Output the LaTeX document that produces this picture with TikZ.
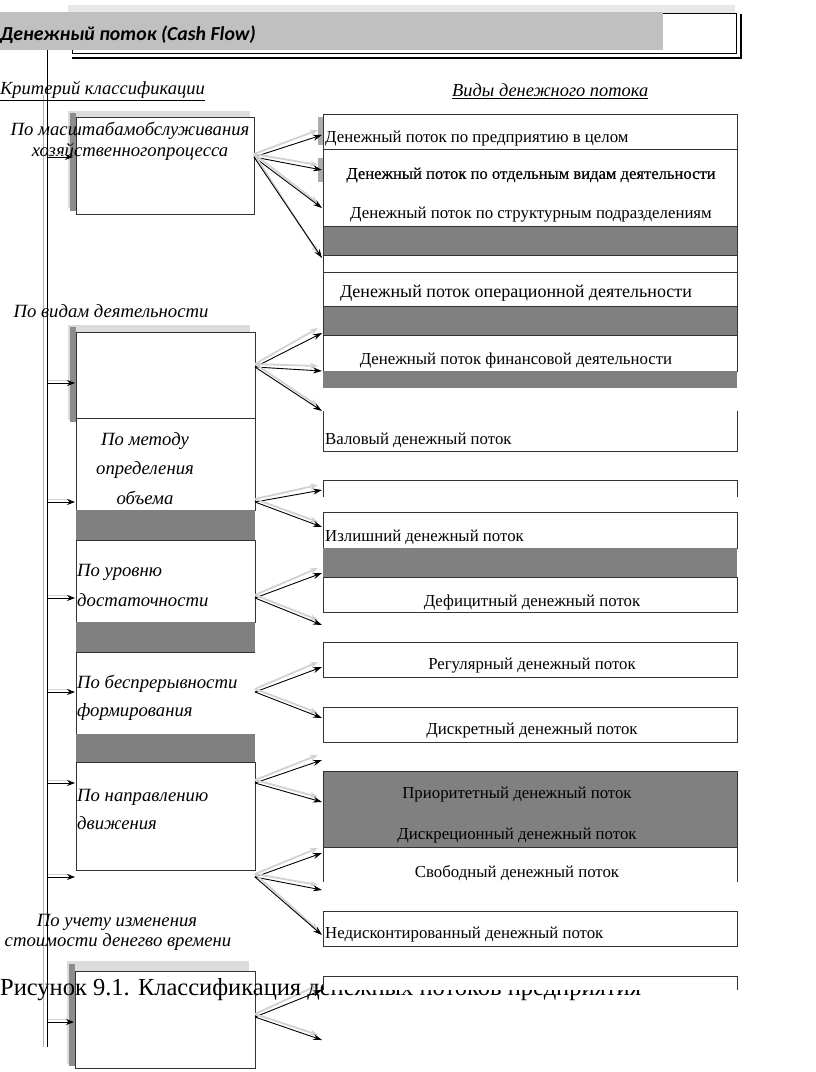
\documentclass[tikz,border=0pt]{standalone}
\usepackage{fontspec}
\setmainfont{Liberation Serif}
\newfontfamily\hdrfont{Carlito}
\usetikzlibrary{arrows.meta}
\definecolor{stripgray}{HTML}{808080}
\definecolor{hdrgray}{HTML}{C0C0C0}
\definecolor{shdark}{HTML}{8C8C8C}
\definecolor{shlight}{HTML}{DCDCDC}
\begin{document}
\begin{tikzpicture}[x=1pt,y=-1pt,
  boxline/.style={draw=black!80, line width=0.8pt},
  strip/.style={fill=stripgray},
  rtext/.style={inner sep=0pt, font=\fontsize{16.8}{19}\selectfont},
  ltext/.style={inner sep=0pt, font=\fontsize{18.7}{21}\selectfont\itshape},
  arr/.style={-{Stealth[length=9pt,width=6pt]}, line width=0.9pt, black},
  arrsh/.style={-{Stealth[length=8pt,width=6pt]}, line width=1.8pt, gray!35},
  feed/.style={-{Stealth[length=8pt,width=6pt]}, line width=0.8pt, black},
  feedsh/.style={line width=1.8pt, gray!35}]
\useasboundingbox (0,0) rectangle (816,1072);
\fill[white] (0,0) rectangle (816,1072);

% ---------- header ----------
\fill[shlight!70] (68,5) rectangle (735,13);
\draw[line width=0.8pt] (72,13) rectangle (736,53);
\draw[line width=1.6pt] (72,58) -- (741,58) -- (741,14);
\fill[hdrgray] (0,12) rectangle (663,50);
\node[anchor=west, inner sep=0pt, font=\hdrfont\bfseries\itshape\fontsize{19.8}{23}\selectfont] (title) at (0,35) {Денежный поток (Cash Flow)};

% ---------- left spine ----------
\coordinate (spT) at (47.5,50);
\coordinate (spB) at (47.5,1047);
\draw[gray!60, line width=0.8pt] (43,95) -- (43,1047);
\draw[black, line width=0.9pt] (spT) -- (spB);

% ---------- column titles ----------
\node[anchor=west, inner sep=0pt, font=\fontsize{18.5}{21}\selectfont\itshape] (crit) at (0,91) {\underline{Критерий классификации}};
\node[anchor=west, inner sep=0pt, font=\fontsize{18.4}{21}\selectfont\itshape] (vidy) at (452,91) {\underline{Виды денежного потока}};

% ---------- left boxes ----------
% box 1
\fill[shlight] (68,111) rectangle (250,208);
\fill[shdark] (70,113) rectangle (76,211);
\filldraw[fill=white, boxline] (76,117) rectangle (254,214);
\node[ltext] (c1a) at (130,131) {По масштабамобслуживания};
\node[ltext] (c1b) at (130,152) {хозяйственногопроцесса};
\node[ltext] (c2) at (111,311) {По видам деятельности};
% box 2
\fill[shlight] (68,325) rectangle (250,420);
\fill[shdark] (70,327) rectangle (76,422);
\filldraw[fill=white, boxline] (76,332) rectangle (255,418);
% box 3
\filldraw[fill=white, boxline] (76,418) rectangle (255,510);
\node[ltext] (c3a) at (145,441) {По методу};
\node[ltext] (c3b) at (145,470) {определения};
\node[ltext] (c3c) at (145,498) {объема};
\fill[strip] (76,510) rectangle (255,540);
% box 4
\filldraw[fill=white, boxline] (76,540) rectangle (255,622);
\node[ltext, anchor=west] (c4a) at (77,572) {По уровню};
\node[ltext, anchor=west] (c4b) at (77,600) {достаточности};
\fill[strip] (76,622) rectangle (255,652);
% box 5
\fill[white] (76,652) rectangle (255,734);
\draw[boxline] (76,734) -- (76,652) -- (255,652);
\node[ltext, anchor=west] (c5a) at (77,684) {По беспрерывности};
\node[ltext, anchor=west] (c5b) at (77,712) {формирования};
\fill[strip] (76,734) rectangle (255,762);
% box 6
\filldraw[fill=white, boxline] (76,762) rectangle (255,870);
\node[ltext, anchor=west] (c6a) at (77,797) {По направлению};
\node[ltext, anchor=west] (c6b) at (77,823) {движения};
\node[ltext] (c7a) at (117,922) {По учету изменения};
\node[ltext] (c7b) at (118,942) {стоимости денегво времени};
% box 7
\fill[shlight] (67,961) rectangle (249,1064);
\fill[shdark] (69,964) rectangle (75,1066);
\filldraw[fill=white, boxline] (75,971) rectangle (255,1068);

% ---------- right boxes ----------
\fill[gray!65] (318,117) rectangle (323,145);
\fill[gray!65] (318,158) rectangle (323,182);
\draw[boxline] (323,114) rectangle (737,149);
\node[rtext, anchor=west] (rA) at (325,139) {Денежный поток по предприятию в целом};
\draw[boxline] (323,149) rectangle (737,226);
\node[rtext, font=\fontsize{16.6}{19}\selectfont\addfontfeature{FakeBold=0.5}] (rB1) at (531,175) {Денежный поток по отдельным видам деятельности};
\node[rtext] (rB2) at (531,215) {Денежный поток по структурным подразделениям};
\filldraw[strip, boxline] (323,226) rectangle (737,255);
\draw[boxline] (323,255) rectangle (737,272);
\draw[boxline] (323,272) rectangle (737,306);
\node[rtext, font=\fontsize{18}{21}\selectfont] (rD) at (516,293) {Денежный поток операционной деятельности};
\filldraw[strip, boxline] (323,306) rectangle (737,335);
\draw[boxline] (323,335) rectangle (737,371);
\node[rtext] (rE) at (516,360) {Денежный поток финансовой деятельности};
\fill[strip] (323,371) rectangle (737,388);
\draw[boxline] (323,411) -- (323,451) -- (737,451) -- (737,411);
\node[rtext, anchor=west] (rF) at (325,440) {Валовый денежный поток};
\draw[boxline] (323,497) -- (323,480) -- (737,480) -- (737,497);
\draw[boxline] (323,512) rectangle (737,548);
\node[rtext, anchor=west] (rH) at (325,537) {Излишний денежный поток};
\fill[strip] (323,548) rectangle (737,577);
\draw[boxline] (323,577) rectangle (737,612);
\node[rtext] (rI) at (532,602) {Дефицитный денежный поток};
\draw[boxline] (323,642) rectangle (737,677);
\node[rtext] (rJ) at (532,666) {Регулярный денежный поток};
\draw[boxline] (323,707) rectangle (737,742);
\node[rtext] (rK) at (532,731) {Дискретный денежный поток};
\filldraw[strip, boxline] (323,771) rectangle (737,847);
\node[rtext] (rL1) at (517,795) {Приоритетный денежный поток};
\node[rtext] (rL2) at (517,836) {Дискреционный денежный поток};
\draw[boxline] (323,847) -- (323,882);
\draw[boxline] (737,847) -- (737,882);
\node[rtext] (rFree) at (517,873) {Свободный денежный поток};
\draw[boxline] (323,911) rectangle (737,946);
\node[rtext, anchor=west] (rM) at (325,935) {Недисконтированный денежный поток};

% ---------- feed arrows from spine ----------
\foreach \n/\yy/\xx in {1/157/73, 2/383/75, 3/502/75, 4/598/75, 5/692/75, 6/783/75, 7/877/75, 8/1022/74} {
  \coordinate (fs\n) at (47.5,\yy);
  \coordinate (fe\n) at (\xx,\yy);
  \draw[feedsh] ([yshift=2.5pt]fs\n) -- ([xshift=-5pt,yshift=2.5pt]fe\n);
  \draw[feed] (fs\n) -- (fe\n);
}

% ---------- classification arrows ----------
\coordinate (s1) at (254,157);
\coordinate (s2) at (255,367);
\coordinate (s3) at (255,502);
\coordinate (s4) at (255,598);
\coordinate (s5) at (255,692);
\coordinate (s6) at (255,783);
\coordinate (s7) at (255,877);
\coordinate (s8) at (255,1017);
\foreach \n/\yy in {a/135, b/170, c/208, d/258, e/333, f/371, g/411, h/490, i/527, j/573, k/625, l/667, m/718, n/760, o/802, p/853, q/890, r/935, s/990, t/1040} {
  \coordinate (t\n) at (322,\yy);
}
\foreach \s/\t in {s1/ta, s1/tb, s1/tc, s1/td, s2/te, s2/tf, s2/tg, s3/th, s3/ti, s4/tj, s4/tk, s5/tl, s5/tm, s6/tn, s6/to, s7/tp, s7/tq, s7/tr, s8/ts, s8/tt} {
  \draw[arrsh] ([yshift=3pt]\s) -- ([xshift=-4pt,yshift=5pt]\t);
  \draw[arr] (\s) -- (\t);
}

% ---------- caption ----------
\node[anchor=west, inner sep=0pt, font=\fontsize{24.5}{28}\selectfont] (cap) at (0,990) {Рисунок 9.1. Классификация денежных потоков предприятия};
\fill[white] (323,976) rectangle (737,990);
\draw[boxline] (323,990) -- (323,976) -- (737,976) -- (737,990);
\end{tikzpicture}
\end{document}
